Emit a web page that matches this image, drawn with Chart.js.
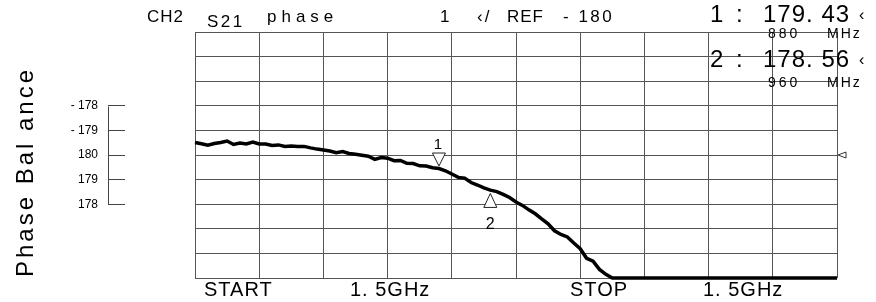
<!DOCTYPE html>
<html><head><meta charset="utf-8">
<script src="https://cdn.jsdelivr.net/npm/chart.js@4/dist/chart.umd.min.js"></script>
<style>html,body{margin:0;padding:0;background:#fff}canvas{display:block}</style>
</head><body>
<canvas id="c" width="876" height="302"></canvas>
<script>
// ---- data ----
const freqMHz = [500,510,520,530,540,550,560,570,580,590,600,610,620,630,640,650,660,670,680,690,
  700,710,720,730,740,750,760,770,780,790,800,810,820,830,840,850,860,870,880,890,
  900,910,920,930,940,950,960,970,980,990,1000,1010,1020,1030,1040,1050,1060,1070,1080,1090,
  1100,1110,1120,1130,1140,1150,1160,1170,1180,1190,1200,1210,1220,1230,1240,1250,1260,1270,1280,1290,
  1300,1310,1320,1330,1340,1350,1360,1370,1380,1390,1400,1410,1420,1430,1440,1450,1460,1470,1480,1490,1500];
const phaseDeg = [180.51,180.46,180.40,180.47,180.51,180.57,180.43,180.49,180.45,180.53,
  180.45,180.45,180.39,180.41,180.35,180.37,180.35,180.35,180.29,180.24,
  180.20,180.16,180.09,180.14,180.06,180.03,179.99,179.95,179.82,179.90,
  179.87,179.77,179.78,179.66,179.65,179.56,179.55,179.48,179.45,179.36,
  179.23,179.09,179.06,178.88,178.78,178.66,178.57,178.51,178.40,178.27,
  178.09,177.95,177.77,177.61,177.40,177.20,176.92,176.77,176.67,176.42,
  176.19,175.80,175.68,175.35,175.15,175,175,175,175,175,
  175,175,175,175,175,175,175,175,175,175,
  175,175,175,175,175,175,175,175,175,175,
  175,175,175,175,175,175,175,175,175,175,175];
const tickValues = [178,179,180,181,182];
const tickLabels = ['178','179','180','- 179','- 178'];
const markerFreq = [880,960];
const markerVal = [179.43,178.56];
const markerName = ['1','2'];
const refValue = 180;

const FONT = '"Liberation Sans", Arial, sans-serif';
const GRID = '#555';

function txt(ctx, s, x, y, size, spacing, align) {
  ctx.font = size + 'px ' + FONT;
  ctx.letterSpacing = (spacing || 0) + 'px';
  ctx.textAlign = align || 'left';
  ctx.textBaseline = 'alphabetic';
  ctx.fillText(s, x, y);
}

const overlay = {
  id: 'overlay',
  afterDraw(chart) {
    const ctx = chart.ctx, xs = chart.scales.x, ys = chart.scales.y;
    ctx.save();
    ctx.fillStyle = '#000';
    ctx.strokeStyle = '#000';
    // short left axis line
    const ax = Math.round(ys.right - 87) + 0.5;
    ctx.strokeStyle = '#444'; ctx.lineWidth = 1;
    ctx.beginPath();
    ctx.moveTo(ax, Math.round(ys.getPixelForValue(182)) + 0.5);
    ctx.lineTo(ax, Math.round(ys.getPixelForValue(178)) + 0.5);
    ctx.stroke();
    // reference marker at right edge
    const ry = ys.getPixelForValue(refValue);
    const rx = chart.chartArea.right;
    ctx.strokeStyle = '#333';
    ctx.beginPath();
    ctx.moveTo(rx + 1, ry); ctx.lineTo(rx + 9, ry - 3); ctx.lineTo(rx + 9, ry + 3); ctx.closePath();
    ctx.stroke();
    // markers
    ctx.lineWidth = 1; ctx.strokeStyle = '#222';
    markerFreq.forEach((f, i) => {
      const px = xs.getPixelForValue(f), py = ys.getPixelForValue(markerVal[i]);
      ctx.beginPath();
      if (i === 0) {
        ctx.moveTo(px, py - 3); ctx.lineTo(px - 6.5, py - 16); ctx.lineTo(px + 6.5, py - 16); ctx.closePath();
        ctx.fillStyle = '#fff'; ctx.fill(); ctx.stroke();
        ctx.fillStyle = '#000';
        txt(ctx, markerName[i], px - 1, py - 20, 15, 0, 'center');
      } else {
        ctx.moveTo(px, py + 3); ctx.lineTo(px - 6.5, py + 17); ctx.lineTo(px + 6.5, py + 17); ctx.closePath();
        ctx.fillStyle = '#fff'; ctx.fill(); ctx.stroke();
        ctx.fillStyle = '#000';
        txt(ctx, markerName[i], px, py + 39, 16, 0, 'center');
      }
    });
    ctx.fillStyle = '#000';
    // header
    txt(ctx, 'CH2', 147, 22, 17, 1);
    txt(ctx, 'S21', 207, 27, 17, 2.5);
    txt(ctx, 'phase', 267, 22, 17, 5);
    txt(ctx, '1', 440, 22, 17, 0);
    txt(ctx, '\u2039/', 477, 22, 17, 2);
    txt(ctx, 'REF', 507, 22, 17, 1);
    txt(ctx, '- 180', 563, 22, 17, 2.5);
    txt(ctx, '1 :', 710, 22, 24, 3);
    txt(ctx, '179. 43', 763, 22, 24, 1);
    txt(ctx, '\u2039', 859, 20, 16, 0);
    txt(ctx, '880', 768, 38, 14, 3);
    txt(ctx, 'MHz', 827, 38, 14, 2);
    txt(ctx, '2 :', 710, 67, 24, 3);
    txt(ctx, '178. 56', 763, 67, 24, 1);
    txt(ctx, '\u2039', 859, 65, 16, 0);
    txt(ctx, '960', 768, 87, 14, 3);
    txt(ctx, 'MHz', 827, 87, 14, 2);
    // footer
    txt(ctx, 'START', 204, 296, 20, 1);
    txt(ctx, '1. 5GHz', 350, 296, 20, 1);
    txt(ctx, 'STOP', 570, 296, 20, 1);
    txt(ctx, '1. 5GHz', 703, 296, 20, 1);
    // y title
    ctx.save();
    ctx.translate(33, 172);
    ctx.rotate(-Math.PI / 2);
    txt(ctx, 'Phase Bal ance', 0, 0, 24, 3, 'center');
    ctx.restore();
    ctx.letterSpacing = '0px';
    ctx.restore();
  }
};

new Chart(document.getElementById('c'), {
  type: 'line',
  data: {
    datasets: [{
      data: freqMHz.map((f, i) => ({x: f, y: phaseDeg[i]})),
      borderColor: '#000',
      borderWidth: 3.5,
      pointRadius: 0,
      tension: 0,
      clip: 6
    }]
  },
  options: {
    responsive: false,
    animation: false,
    devicePixelRatio: 1,
    layout: {padding: {top: 32, right: 39, left: 0, bottom: 0}},
    plugins: {legend: {display: false}, tooltip: {enabled: false}},
    scales: {
      x: {
        type: 'linear', min: 500, max: 1500,
        ticks: {stepSize: 100, display: false},
        grid: {color: GRID, lineWidth: 1, drawTicks: false},
        border: {display: false},
        afterFit(s) { s.height = 24; }
      },
      y: {
        min: 175, max: 185,
        ticks: {
          stepSize: 1, padding: 10, autoSkip: false, color: '#000',
          font: {family: FONT, size: 12},
          callback: (v) => { const i = tickValues.indexOf(v); return i >= 0 ? tickLabels[i] : ''; }
        },
        grid: {
          color: GRID, lineWidth: 1, tickLength: 87,
          tickColor: (c) => (c.tick && tickValues.includes(c.tick.value)) ? '#444' : 'rgba(0,0,0,0)',
          tickBorderDash: [17, 100], tickBorderDashOffset: 0
        },
        border: {display: false},
        afterFit(s) { s.width = 195; }
      }
    }
  },
  plugins: [overlay]
});
</script>
</body></html>
